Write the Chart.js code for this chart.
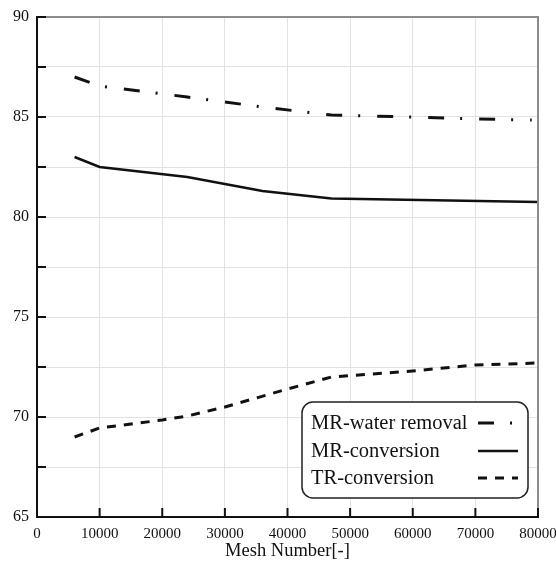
<!DOCTYPE html>
<html>
<head>
<meta charset="utf-8">
<script src="https://cdn.jsdelivr.net/npm/chart.js@4/dist/chart.umd.min.js"></script>
<style>
  html, body { margin: 0; padding: 0; background: #fff; }
  canvas { display: block; }
</style>
</head>
<body>
<canvas id="c" width="556" height="562"></canvas>
<script>
// ---- Data ----
const seriesLabels = ["MR-water removal", "MR-conversion", "TR-conversion"];

const waterX = [6000, 10000, 24000, 36000, 47000, 60000, 70000, 79000];
const waterY = [87.0, 86.55, 86.0, 85.5, 85.1, 85.0, 84.9, 84.85];

const convX = [6000, 10000, 24000, 36000, 47000, 80000];
const convY = [83.0, 82.5, 82.0, 81.3, 80.92, 80.75];

const trX = [6000, 10000, 20000, 24000, 30000, 40000, 47000, 60000, 70000, 80000];
const trY = [69.0, 69.45, 69.85, 70.05, 70.5, 71.4, 72.0, 72.3, 72.6, 72.7];

const xTitle = "Mesh Number[-]";
const xMin = 0, xMax = 80000, xStep = 10000;
const yMin = 65, yMax = 90, yStep = 2.5, yLabelStep = 5;

const SERIF = "'Liberation Serif', 'Times New Roman', 'DejaVu Serif', serif";

function pts(xs, ys) { return xs.map((x, i) => ({ x: x, y: ys[i] })); }

const dashDot = [16, 16, 2, 17];
const dashed = [9, 8];

const decorPlugin = {
  id: 'decor',
  afterDraw(chart) {
    const ctx = chart.ctx;
    const a = chart.chartArea;
    const xs = chart.scales.x, ys = chart.scales.y;
    ctx.save();
    // top and right frame (grey)
    ctx.strokeStyle = '#8c8c8c';
    ctx.lineWidth = 2;
    ctx.beginPath();
    ctx.moveTo(a.left, a.top);
    ctx.lineTo(a.right, a.top);
    ctx.lineTo(a.right, a.bottom);
    ctx.stroke();
    // left & bottom axis (black)
    ctx.strokeStyle = '#111';
    ctx.lineWidth = 2;
    ctx.beginPath();
    ctx.moveTo(a.left, a.top - 1);
    ctx.lineTo(a.left, a.bottom);
    ctx.lineTo(a.right + 1, a.bottom);
    ctx.stroke();
    // inner tick marks
    ctx.beginPath();
    ys.ticks.forEach(t => {
      const py = ys.getPixelForValue(t.value);
      ctx.moveTo(a.left, py);
      ctx.lineTo(a.left + 9, py);
    });
    xs.ticks.forEach(t => {
      const px = xs.getPixelForValue(t.value);
      ctx.moveTo(px, a.bottom);
      ctx.lineTo(px, a.bottom - 9);
    });
    ctx.stroke();

    // legend box
    const bx = a.left + 265, by = a.bottom - 115;
    const bw = a.right - 10 - bx, bh = 96;
    const r = 11;
    ctx.beginPath();
    ctx.moveTo(bx + r, by);
    ctx.lineTo(bx + bw - r, by);
    ctx.arcTo(bx + bw, by, bx + bw, by + r, r);
    ctx.lineTo(bx + bw, by + bh - r);
    ctx.arcTo(bx + bw, by + bh, bx + bw - r, by + bh, r);
    ctx.lineTo(bx + r, by + bh);
    ctx.arcTo(bx, by + bh, bx, by + bh - r, r);
    ctx.lineTo(bx, by + r);
    ctx.arcTo(bx, by, bx + r, by, r);
    ctx.closePath();
    ctx.fillStyle = '#fff';
    ctx.fill();
    ctx.strokeStyle = '#222';
    ctx.lineWidth = 1.5;
    ctx.stroke();

    ctx.font = "20.5px " + SERIF;
    ctx.fillStyle = '#111';
    ctx.textBaseline = 'middle';
    ctx.textAlign = 'left';
    const rowY = [by + 21, by + 49, by + 76];
    chart.data.datasets.forEach((ds, i) => {
      ctx.fillText(ds.label, bx + 9, rowY[i] + 1);
      ctx.save();
      ctx.strokeStyle = '#111';
      ctx.lineWidth = ds.borderWidth;
      ctx.setLineDash(ds.borderDash || []);
      ctx.lineCap = 'butt';
      ctx.beginPath();
      ctx.moveTo(bx + 176, rowY[i]);
      ctx.lineTo(bx + 216, rowY[i]);
      ctx.stroke();
      ctx.restore();
    });
    ctx.restore();
  }
};

new Chart(document.getElementById('c'), {
  type: 'line',
  data: {
    datasets: [
      { label: seriesLabels[0], data: pts(waterX, waterY), borderColor: '#111', borderWidth: 3, borderDash: dashDot, pointRadius: 0, fill: false, tension: 0 },
      { label: seriesLabels[1], data: pts(convX, convY), borderColor: '#111', borderWidth: 2.5, pointRadius: 0, fill: false, tension: 0 },
      { label: seriesLabels[2], data: pts(trX, trY), borderColor: '#111', borderWidth: 3, borderDash: dashed, pointRadius: 0, fill: false, tension: 0 }
    ]
  },
  options: {
    responsive: false,
    animation: false,
    layout: { padding: { left: 0, top: 17, right: 18, bottom: 0 } },
    plugins: { legend: { display: false }, tooltip: { enabled: false } },
    scales: {
      x: {
        type: 'linear',
        min: xMin, max: xMax,
        afterFit(s) { s.height = 45; s.paddingLeft = 0; s.paddingRight = 0; },
        border: { display: false },
        grid: { color: '#e2e2e2', lineWidth: 1, drawTicks: false },
        ticks: {
          stepSize: xStep,
          padding: 8,
          color: '#111',
          font: { family: SERIF, size: 15 },
          maxRotation: 0,
          callback: v => String(v)
        },
        title: {
          display: true,
          text: xTitle,
          color: '#111',
          font: { family: SERIF, size: 18.5 },
          padding: { top: 0, bottom: 0 }
        }
      },
      y: {
        type: 'linear',
        min: yMin, max: yMax,
        afterFit(s) { s.width = 37; s.paddingTop = 0; s.paddingBottom = 0; },
        border: { display: false },
        grid: { color: '#e2e2e2', lineWidth: 1, drawTicks: false },
        ticks: {
          stepSize: yStep,
          padding: 8,
          color: '#111',
          font: { family: SERIF, size: 16 },
          callback: v => (Math.abs(v % yLabelStep) < 1e-9 ? String(v) : '')
        }
      }
    }
  },
  plugins: [decorPlugin]
});
</script>
</body>
</html>
